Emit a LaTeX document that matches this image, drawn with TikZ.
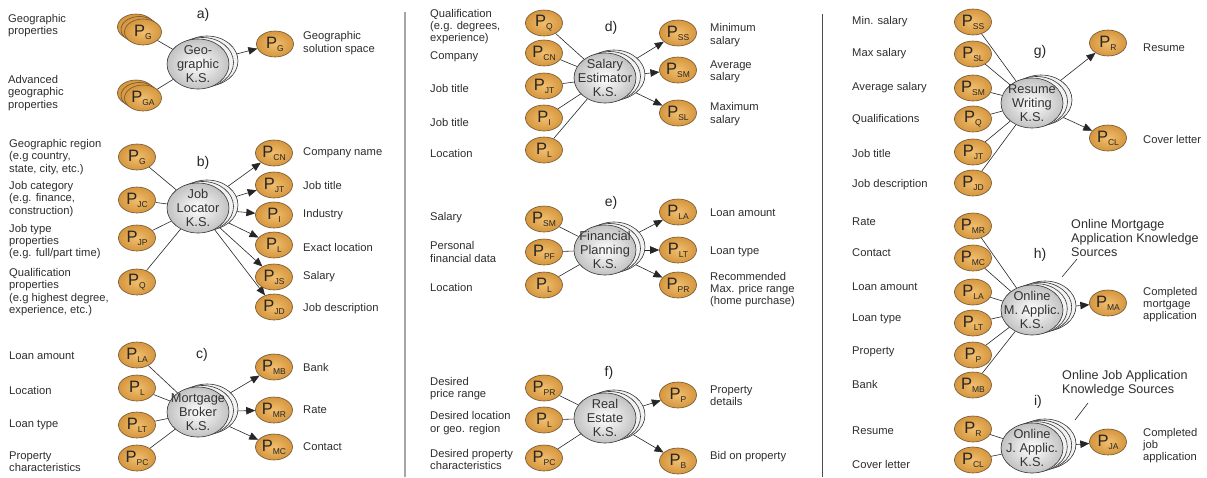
\documentclass[tikz,border=0pt]{standalone}
\usepackage{fontspec}
\setmainfont{Liberation Sans}
\usetikzlibrary{shapes.geometric,arrows.meta,backgrounds}
\definecolor{pin}{RGB}{240,190,110}
\definecolor{pout}{RGB}{214,150,62}
\definecolor{pdraw}{RGB}{110,85,50}
\definecolor{txtc}{RGB}{45,45,45}
\newcommand{\Psub}[1]{{\fontsize{16.5}{16}\selectfont P}\raisebox{-3.2pt}{\fontsize{8.5}{9}\selectfont #1}}
\newcommand{\Pn}[3]{\node[pn] (#1) at (#2) {\Psub{#3}};}
\newcommand{\Pst}[3]{\node[pn,xshift=-7pt,yshift=5pt] at (#2) {};\node[pn,xshift=-3.5pt,yshift=2.5pt] at (#2) {};\Pn{#1}{#2}{#3}}
\newcommand{\KS}[4]{%
  \foreach \dx/\dy in {#4} {\node[ksback, xshift=\dx pt, yshift=\dy pt] at (#2) {};}
  \node[ks] (#1) at (#2) {};
  \node[kstext] (#1-t) at (#1) {#3};}
\begin{document}
\begin{tikzpicture}[x=1pt,y=-1pt,
  pn/.style={ellipse, inner sep=0pt, minimum width=37pt, minimum height=26pt, inner color=pin, outer color=pout, draw=pdraw, line width=0.6pt, text=black!85},
  ks/.style={ellipse, inner sep=0pt, minimum width=62pt, minimum height=50pt, inner color=white, outer color=gray!48, draw=black!80, line width=0.6pt},
  ksback/.style={ellipse, inner sep=0pt, minimum width=62pt, minimum height=50pt, fill=gray!10, draw=black!80, line width=0.6pt},
  kstext/.style={inner sep=0pt, align=center, font=\fontsize{12.8}{13.8}\selectfont, text=black!80},
  txt/.style={anchor=west, inner sep=0pt, align=left, font=\fontsize{11.2}{12.3}\selectfont, text=txtc},
  ann/.style={anchor=west, inner sep=0pt, align=left, font=\fontsize{12.6}{14}\selectfont, text=txtc},
  lab/.style={inner sep=0pt, font=\fontsize{14}{14}\selectfont, text=black!85},
  conn/.style={draw=black!85, line width=0.6pt},
  arr/.style={conn, -{Triangle[length=9pt,width=7.5pt]}}]
\useasboundingbox (0,0) rectangle (1207,477);
% dividers
\draw[gray!70, line width=1.6pt] (405,12) -- (405,477);
\draw[black!70, line width=1pt] (822,14) -- (822,477);

% ---------- a)
\node[txt] (ta1) at (8,25.5) {Geographic\\properties};
\node[txt] (ta2) at (8,93) {Advanced\\geographic\\properties};
\Pst{aG}{143,32}{G}
\Pst{aGA}{143,98}{GA}
\KS{aKS}{198,64}{Geo-\\graphic\\K.S.}{9/3,4.5/1.5}
\node[lab] (la) at (203,15) {a)};
\Pn{aGo}{275,44}{G}
\node[txt] (ta3) at (303,43) {Geographic\\solution space};

% ---------- b)
\node[txt] (tb1) at (9,157) {Geographic region\\(e.g country,\\state, city, etc.)};
\node[txt] (tb2) at (9,199) {Job category\\(e.g. finance,\\construction)};
\node[txt] (tb3) at (9,241.5) {Job type\\properties\\(e.g. full/part time)};
\node[txt] (tb4) at (9,292) {Qualification\\properties\\(e.g highest degree,\\experience, etc.)};
\Pn{bG}{137,157}{G}
\Pn{bJC}{137,200}{JC}
\Pn{bJP}{137,238}{JP}
\Pn{bQ}{137,282}{Q}
\KS{bKS}{198,208}{Job\\Locator\\K.S.}{9/3,4.5/1.5}
\node[lab] (lb) at (203,163) {b)};
\Pn{bCN}{274,153}{CN}
\Pn{bJT}{274,185}{JT}
\Pn{bI}{274,215}{I}
\Pn{bL}{274,245}{L}
\Pn{bJS}{274,277}{JS}
\Pn{bJD}{274,307}{JD}
\node[txt] (tb5) at (303,153) {Company name};
\node[txt] (tb6) at (303,185) {Job title};
\node[txt] (tb7) at (303,215) {Industry};
\node[txt] (tb8) at (303,247) {Exact location};
\node[txt] (tb9) at (303,277) {Salary};
\node[txt] (tb10) at (303,309) {Job description};

% ---------- c)
\node[txt] (tc1) at (9,356) {Loan amount};
\node[txt] (tc2) at (9,390) {Location};
\node[txt] (tc3) at (9,425) {Loan type};
\node[txt] (tc4) at (9,461.5) {Property\\characteristics};
\Pn{cLA}{137,355}{LA}
\Pn{cL}{137,388}{L}
\Pn{cLT}{137,425}{LT}
\Pn{cPC}{137,458}{PC}
\KS{cKS}{198,412}{Mortgage\\Broker\\K.S.}{9/3,4.5/1.5}
\node[lab] (lc) at (202,355) {c)};
\Pn{cMB}{274,367}{MB}
\Pn{cMR}{274,410}{MR}
\Pn{cMC}{274,447}{MC}
\node[txt] (tc5) at (303,367) {Bank};
\node[txt] (tc6) at (303,410) {Rate};
\node[txt] (tc7) at (303,447) {Contact};

% ---------- d)
\node[txt] (td1) at (430,26.5) {Qualification\\(e.g. degrees,\\experience)};
\node[txt] (td2) at (430,57) {Company};
\node[txt] (td3) at (430,88) {Job title};
\node[txt] (td4) at (430,122) {Job title};
\node[txt] (td5) at (430,153) {Location};
\Pn{dQ}{544,23}{Q}
\Pn{dCN}{544,53}{CN}
\Pn{dJT}{544,86}{JT}
\Pn{dI}{544,118}{I}
\Pn{dL}{544,150}{L}
\KS{dKS}{605,78}{Salary\\Estimator\\K.S.}{9/3,4.5/1.5}
\node[lab] (ld) at (611,28) {d)};
\Pn{dSS}{678,33}{SS}
\Pn{dSM}{678,70}{SM}
\Pn{dSL}{678,113}{SL}
\node[txt] (td6) at (710,35) {Minimum\\salary};
\node[txt] (td7) at (710,72) {Average\\salary};
\node[txt] (td8) at (710,114) {Maximum\\salary};

% ---------- e)
\node[txt] (te1) at (430,218) {Salary};
\node[txt] (te2) at (430,252) {Personal\\financial data};
\node[txt] (te3) at (430,287) {Location};
\Pn{eSM}{544,219}{SM}
\Pn{ePF}{544,252}{PF}
\Pn{eL}{544,285}{L}
\KS{eKS}{605,250}{Financial\\Planning\\K.S.}{9/3,4.5/1.5}
\node[lab] (le) at (611,203) {e)};
\Pn{eLA}{678,212}{LA}
\Pn{eLT}{678,250}{LT}
\Pn{ePR}{678,285}{PR}
\node[txt] (te4) at (710,213) {Loan amount};
\node[txt] (te5) at (710,252) {Loan type};
\node[txt] (te6) at (710,289.5) {Recommended\\Max. price range\\(home purchase)};

% ---------- f)
\node[txt] (tf1) at (430,388.5) {Desired\\price range};
\node[txt] (tf2) at (430,423) {Desired location\\or geo. region};
\node[txt] (tf3) at (430,459.5) {Desired property\\characteristics};
\Pn{fPR}{544,388}{PR}
\Pn{fL}{544,420}{L}
\Pn{fPC}{544,458}{PC}
\KS{fKS}{605,418}{Real\\Estate\\K.S.}{9/3,4.5/1.5}
\node[lab] (lf) at (609,373) {f)};
\Pn{fP}{678,395}{P}
\Pn{fB}{678,461}{B}
\node[txt] (tf4) at (710,396) {Property\\details};
\node[txt] (tf5) at (710,457) {Bid on property};

% ---------- g)
\node[txt] (tg1) at (852,22) {Min. salary};
\node[txt] (tg2) at (852,54) {Max salary};
\node[txt] (tg3) at (852,88) {Average salary};
\node[txt] (tg4) at (852,119) {Qualifications};
\node[txt] (tg5) at (852,153) {Job title};
\node[txt] (tg6) at (852,185) {Job description};
\Pn{gSS}{973,22}{SS}
\Pn{gSL}{973,54}{SL}
\Pn{gSM}{973,88}{SM}
\Pn{gQ}{973,119}{Q}
\Pn{gJT}{973,152}{JT}
\Pn{gJD}{973,183}{JD}
\KS{gKS}{1032,103}{Resume\\Writing\\K.S.}{9/3,4.5/1.5}
\node[lab] (lg) at (1040,52) {g)};
\Pn{gR}{1108,43}{R}
\Pn{gCL}{1108,138}{CL}
\node[txt] (tg7) at (1143,48) {Resume};
\node[txt] (tg8) at (1143,139) {Cover letter};

% ---------- h)
\node[txt] (th1) at (852,222) {Rate};
\node[txt] (th2) at (852,253) {Contact};
\node[txt] (th3) at (852,287) {Loan amount};
\node[txt] (th4) at (852,319) {Loan type};
\node[txt] (th5) at (852,352) {Property};
\node[txt] (th6) at (852,384) {Bank};
\Pn{hMR}{973,226}{MR}
\Pn{hMC}{973,258}{MC}
\Pn{hLA}{973,292}{LA}
\Pn{hLT}{973,323}{LT}
\Pn{hP}{973,355}{P}
\Pn{hMB}{973,385}{MB}
\KS{hKS}{1032,310}{Online\\M. Applic.\\K.S.}{13/4,8.7/2.7,4.3/1.3}
\node[lab] (lh) at (1040,255) {h)};
\Pn{hMA}{1108,303}{MA}
\node[txt] (th7) at (1143,304.5) {Completed\\mortgage\\application};
\node[ann] (th8) at (1071,238) {Online Mortgage\\Application Knowledge\\Sources};
\coordinate (hpa) at (1077,259);
\coordinate (hpb) at (1062,277);

% ---------- i)
\node[txt] (ti1) at (852,431) {Resume};
\node[txt] (ti2) at (852,464) {Cover letter};
\Pn{iR}{973,429}{R}
\Pn{iCL}{973,460}{CL}
\KS{iKS}{1032,448}{Online\\J. Applic.\\K.S.}{13/4,8.7/2.7,4.3/1.3}
\node[lab] (li) at (1038,402) {i)};
\Pn{iJA}{1108,442}{JA}
\node[txt] (ti3) at (1143,445.5) {Completed\\job\\application};
\node[ann] (ti4) at (1062,383) {Online Job Application\\Knowledge Sources};
\coordinate (ipa) at (1088,403);
\coordinate (ipb) at (1075,420);

% ---------- connectors
\begin{scope}[on background layer]
\foreach \s/\t in {aG/aKS,aGA/aKS,
  bG/bKS,bJC/bKS,bJP/bKS,bQ/bKS,
  cLA/cKS,cL/cKS,cLT/cKS,cPC/cKS,
  dQ/dKS,dCN/dKS,dJT/dKS,dI/dKS,dL/dKS,
  eSM/eKS,ePF/eKS,eL/eKS,
  fPR/fKS,fL/fKS,fPC/fKS,
  gSS/gKS,gSL/gKS,gSM/gKS,gQ/gKS,gJT/gKS,gJD/gKS,
  hMR/hKS,hMC/hKS,hLA/hKS,hLT/hKS,hP/hKS,hMB/hKS,
  iR/iKS,iCL/iKS}
  \draw[conn] (\s) -- (\t);
\foreach \s/\t in {aKS/aGo,
  bKS/bCN,bKS/bJT,bKS/bI,bKS/bL,bKS/bJS,bKS/bJD,
  cKS/cMB,cKS/cMR,cKS/cMC,
  dKS/dSS,dKS/dSM,dKS/dSL,
  eKS/eLA,eKS/eLT,eKS/ePR,
  fKS/fP,fKS/fB,
  gKS/gR,gKS/gCL,
  hKS/hMA,
  iKS/iJA}
  \draw[arr] (\s) -- (\t);
\end{scope}
\draw[conn] (hpa) -- (hpb);
\draw[conn] (ipa) -- (ipb);
\end{tikzpicture}
\end{document}
